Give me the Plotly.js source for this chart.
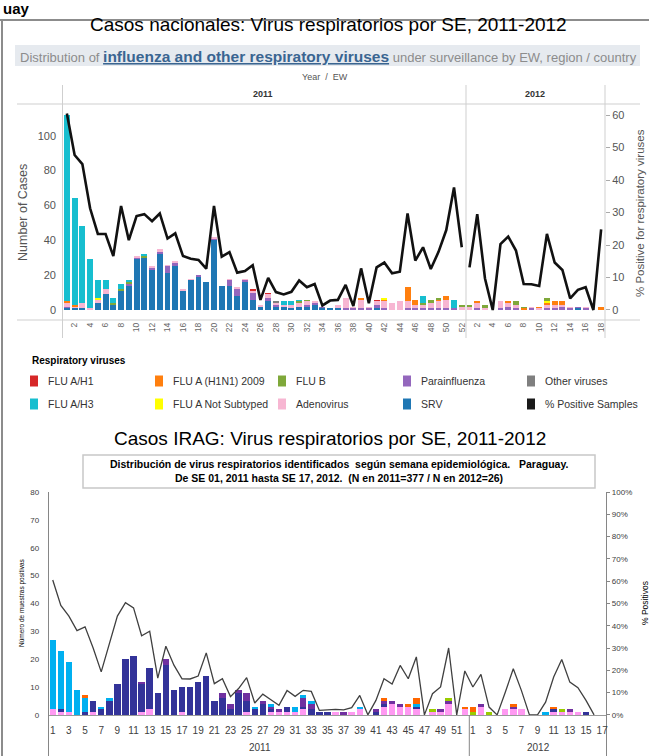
<!DOCTYPE html>
<html>
<head>
<meta charset="utf-8">
<script src="https://cdn.plot.ly/plotly-3.0.1.min.js"></script>
<style>html,body{margin:0;padding:0;background:#fff;}#chart{width:649px;height:756px;}</style>
</head>
<body>
<div id="chart"></div>
<script>
// ---------------- DATA: top chart (national cases), 2011 W1-52 + 2012 W1-18 ----------------
const yearsTop = [2011, 2012];
const weeksPerYearTop = [52, 18];
const srvTop = [1,1,1,0,4,9,3,11,14,29, 30,23,32,21,25,11,17,19,16,40, 14,14,8,16,6,2,5,2,2,1, 2,2,3,1,1,1,0,0,0,0, 1,0,0,0,0,0,0,0,0,0, 0,0,
                0,0,0,0,0,0,0,0,0,0, 0,0,0,0,1,0,0,0];
const paraTop = [1,0,0,0,0,0,0,0,1,1, 0,1,1,4,2,0,0,1,0,1, 0,3,4,1,4,0,2,1,0,0, 0,1,1,1,0,0,1,1,1,1, 2,1,0,0,1,1,1,1,1,1, 1,0,
                 0,1,0,0,1,2,1,0,1,0, 1,1,2,1,1,1,0,0];
const adenoTop = [2,1,3,1,2,3,0,0,0,1, 0,1,2,1,1,1,1,0,0,1, 0,1,1,1,1,1,2,1,1,2, 2,2,1,0,0,2,6,1,5,1, 2,4,4,5,4,2,2,3,4,5, 0,2,
                  2,3,1,0,4,2,2,0,1,1, 2,2,1,1,0,1,0,0];
const otherTop = [0,0,0,0,0,0,0,0,0,0, 0,0,0,0,0,0,0,0,0,0, 0,0,0,0,0,0,0,1,0,0, 0,0,0,0,0,0,0,0,0,0, 0,0,0,0,0,0,0,0,0,0, 0,0,
                  0,0,0,0,0,0,0,0,0,0, 0,0,0,0,0,0,0,0];
const h1Top = [0,0,0,0,0,0,0,0,0,0, 0,0,0,0,0,0,0,0,0,0, 0,0,0,0,1,0,1,0,0,0, 0,0,0,0,0,0,0,0,0,0, 1,0,0,0,0,0,0,0,0,0, 0,0,
               0,0,0,0,0,0,0,0,0,0, 0,0,0,0,0,0,0,0];
const h1n1Top = [1,1,0,0,0,0,0,0,0,0, 0,0,0,0,0,0,0,0,0,0, 0,0,0,0,0,0,0,0,0,0, 0,0,0,0,0,0,0,0,1,0, 0,1,0,0,8,3,0,0,1,2, 0,0,
                 0,1,0,0,0,1,0,1,0,1, 1,2,2,0,0,0,0,1.5];
const notSubTop = [0,0,0,0,1,0,0,0,0,0, 0,0,0,0,0,0,0,0,0,0, 0,0,0,0,0,0,0,0,0,0, 0,0,0,0,0,0,0,0,0,0, 0,1,0,0,0,0,0,0,0,0, 0,0,
                   0,0,0,0,0,0,0,0,0,0, 1,0,0,0,0,0,0,0];
const fluBTop = [0,0,0,0,0,0,1,1,1,0, 1,0,0,0,0,0,0,0,0,0, 0,0,0,0,0,0,0,0,0,0, 1,1,0,0,0,0,0,0,0,0, 0,0,0,0,0,0,1,2,1,0, 0,1,
                 1,0,2,0,0,0,2,1,0,0, 2,0,0,0,0,0,0,0];
const h3Top = [107,61,44,28,10,5,3,3,1,0, 1,0,0,0,0,0,0,0,0,0, 0,0,0,0,0,0,0,0,2,2, 1,0,0,0,0,0,0,0,0,0, 0,0,0,0,0,0,4,0,0,0, 5,0,
               0,0,0,0,0,0,0,0,0,0, 0,0,0,0,0,0,0,0];
const pctTop2011 = [60.5,47.7,44.9,31.3,23.4,23.4,16.6,32,21.5,28.9, 29.5,27.3,29.7,22,23.6,16.6,15.8,15.4,12.7,32,
                    16.4,17.8,11.5,12,13.8,3.1,9.9,5.5,4.8,5.6, 9.1,7,8,1.4,2.9,3.1,7.7,1.2,12.8,2.1,
                    13.1,14.6,11.3,11.8,29.7,15.2,19.3,12.6,17.9,24.6, 37.7,19.3];
const pctTop2012 = [13.1,29.5,9.7,0,20.3,22.6,18.3,8,7.9,7.4, 23.4,14.6,12.3,3.6,6.2,7,0,24.8];
const leftTicksTop = [0,20,40,60,80,100];
const rightTicksTop = [0,10,20,30,40,50,60];

// legend (top chart)
const legendNames = ["FLU A/H1","FLU A (H1N1) 2009","FLU B","Parainfluenza","Other viruses",
                     "FLU A/H3","FLU A Not Subtyped","Adenovirus","SRV","% Positive Samples"];
const legendColors = ["#d62728","#ff7f0e","#7fa83a","#9467bd","#7f7f7f",
                      "#17becf","#ffff00","#f7b6d2","#1f77b4","#1a1a1a"];

// ---------------- DATA: bottom chart (IRAG), 2011 W1-52 + 2012 W1-17 ----------------
const yearsBot = [2011, 2012];
const weeksPerYearBot = [52, 17];
const pinkBot = [2,1,1,0,0,1,0,0,0,0, 0,1,2,0,0,0,1,0,0,0, 0,0,0,0,1,0,0,1,1,1, 1,2,0,0,0,1,0,1,2,0, 0,3,4,3,3,2,0,1,1,4, 0,2,
                 0,3,0,0,2,2,2,0,0,0, 1,1,1,1,0,0,0];
const navyBot = [0,1,0,0,1,4,2,5,11,20, 21,10,15,8,18,9,9,10,12,14, 5,6,2,8,4,2,4,1,0,2, 0,1,2,1,1,0,0,0,0,0, 1,1,0,0,0,1,0,0,0,0, 0,0,
                 0,0,0,0,0,0,0,0,0,0, 1,0,0,0,1,0,0];
const purpleBot = [0,0,0,0,0,0,0,0,0,0, 0,1,0,0,2,0,0,0,0,0, 0,2,2,1,3,0,1,1,1,0, 0,3,2,0,0,0,1,0,0,0, 1,1,1,1,0,0,0,0,1,1, 0,0,
                   0,1,0,0,0,1,0,0,0,0, 0,0,1,0,0,0,0];
const lblueBot = [25,21,18,9,5,0,1,1,0,0, 0,0,0,0,0,0,0,0,0,0, 0,0,0,0,0,1,0,1,0,0, 2,1,1,0,0,0,0,0,1,0, 0,0,0,0,0,1,0,0,0,0, 0,0,
                  0,0,0,0,0,0,0,0,0,1, 0,0,0,0,0,0,0];
const greenBot = [0,0,0,0,0,0,0,0,0,0, 0,0,0,0,0,0,0,0,0,0, 0,0,0,0,0,0,0,0,0,0, 0,0,0,0,0,0,0,0,0,0, 0,0,0,0,0,0,0,1,0,1, 0,0,
                  1,0,1,0,0,0,0,0,0,0, 0,1,0,0,0,0,0];
const orangeBot = [0,0,0,0,1,0,0,0,0,0, 0,0,0,0,0,0,0,0,0,0, 0,0,0,0,0,0,0,0,0,0, 0,0,0,0,0,0,0,0,0,0, 0,1,0,0,1,2,0,0,0,0, 0,1,
                   2,0,0,0,0,1,0,0,0,0, 1,0,0,0,0,0,0];
const pctBot = [60.5,49.1,44.3,37.8,39.5,30,19.3,32.3,44.3,50.3, 48,35.5,37.5,16.5,30.8,22.3,16.2,16.1,17.4,27.8,
                14,16.2,8.2,11.8,16.7,5.3,9.3,6.8,4.3,10.9, 8.3,11,10.5,2,2.2,2.5,2.2,3.2,8.7,0,
                6.5,16.2,13.8,22.2,16.2,26,0,9.5,12.5,30, 0,19.7,
                12.5,18.2,3.5,0,10,20.7,11,0,0,5.7, 17,24.8,14.7,12.2,6.5,0,null];
const leftTicksBot = [0,10,20,30,40,50,60,70,80];
const rightTicksBot = [0,10,20,30,40,50,60,70,80,90,100];
const rightTickTextBot = ["0%","10%","20%","30%","40%","50%","60%","70%","80%","90%","100%"];

// ---------------- categories ----------------
function buildCats(years, counts){ const c=[], w=[]; years.forEach((y,i)=>{ for(let k=1;k<=counts[i];k++){ c.push(y+"-"+k); w.push(k);} }); return {c, w}; }
const catTop = buildCats(yearsTop, weeksPerYearTop);
const catBot = buildCats(yearsBot, weeksPerYearBot);
const topTickVals = catTop.c.filter((c,i)=>catTop.w[i]%2===0);
const topTickText = catTop.w.filter(w=>w%2===0).map(String);
const botTickVals = catBot.c.filter((c,i)=>catBot.w[i]%2===1);
const botTickText = catBot.w.filter(w=>w%2===1).map(String);

// ---------------- page geometry helpers ----------------
const W=649, H=756;
const px = x => x/W, py = y => 1 - y/H;

const FONT = "Liberation Sans, Arial, sans-serif";

const traces = [];
function topBar(name, y, color){ traces.push({type:'bar', name, x: catTop.c, y, xaxis:'x', yaxis:'y', width:0.76,
  marker:{color, line:{width:0}}, showlegend:false}); }
topBar('SRV', srvTop, '#1f77b4');
topBar('Parainfluenza', paraTop, '#9467bd');
topBar('Adenovirus', adenoTop, '#f7b6d2');
topBar('Other viruses', otherTop, '#7f7f7f');
topBar('FLU A/H1', h1Top, '#d62728');
topBar('FLU A (H1N1) 2009', h1n1Top, '#ff7f0e');
topBar('FLU A Not Subtyped', notSubTop, '#ffff00');
topBar('FLU B', fluBTop, '#7fa83a');
topBar('FLU A/H3', h3Top, '#17becf');
traces.push({type:'scatter', mode:'lines', name:'% Positive Samples 2011', x: catTop.c.slice(0,52), y: pctTop2011,
  xaxis:'x', yaxis:'y2', line:{color:'#111', width:2.6}, showlegend:false});
traces.push({type:'scatter', mode:'lines', name:'% Positive Samples 2012', x: catTop.c.slice(52), y: pctTop2012,
  xaxis:'x', yaxis:'y2', line:{color:'#111', width:2.6}, showlegend:false});

function botBar(name, y, color){ traces.push({type:'bar', name, x: catBot.c, y, xaxis:'x3', yaxis:'y3', width:0.8,
  marker:{color, line:{width:0}}, showlegend:false}); }
botBar('Adenovirus', pinkBot, '#ff99f2');
botBar('VSR', navyBot, '#333399');
botBar('Parainfluenza', purpleBot, '#7030a0');
botBar('Influenza A H3', lblueBot, '#00b0f0');
botBar('Influenza B', greenBot, '#99cc00');
botBar('Influenza A H1N1 2009', orangeBot, '#ff6600');
traces.push({type:'scatter', mode:'lines', name:'% Positivos', x: catBot.c, y: pctBot, xaxis:'x3', yaxis:'y4',
  line:{color:'#404040', width:1.3}, connectgaps:false, showlegend:false});

// ---------------- shapes ----------------
const shapes = [];
const lineShape = (x0,y0,x1,y1,color,w) => shapes.push({type:'line', xref:'paper', yref:'paper',
  x0:px(x0), y0:py(y0), x1:px(x1), y1:py(y1), line:{color, width:w}});
// page border
lineShape(0,20,649,20,'#8c8c8c',2);
lineShape(2,20,2,756,'#8c8c8c',2);
// subtitle band
shapes.push({type:'rect', xref:'paper', yref:'paper', x0:px(15), x1:px(640), y0:py(66), y1:py(45),
  fillcolor:'#e6eaef', line:{width:0}, layer:'below'});
// top chart frame
lineShape(62.5,85,62.5,338,'#cfcfcf',1);
lineShape(466,85,466,338,'#cfcfcf',1);
lineShape(605,85,605,338,'#cfcfcf',1);
lineShape(17,104,640,104,'#cfcfcf',1);
lineShape(17,320,640,320,'#cfcfcf',1);
// legend swatches
const legCols = [30,155,278,403,527], legRows = [381,404];
legendNames.forEach((n,i)=>{
  const cx = legCols[i%5], cy = legRows[Math.floor(i/5)];
  shapes.push({type:'rect', xref:'paper', yref:'paper', x0:px(cx), x1:px(cx+8), y0:py(cy+5.5), y1:py(cy-5.5),
    fillcolor:legendColors[i], line:{width:0}});
});
// bottom subtitle box
shapes.push({type:'rect', xref:'paper', yref:'paper', x0:px(83), x1:px(595), y0:py(488), y1:py(455),
  fillcolor:'rgba(0,0,0,0)', line:{color:'#c8c8c8', width:1.5}});
// bottom year divider
lineShape(469.3,715,469.3,756,'#868686',1);

// ---------------- annotations ----------------
const ann = [];
const txt = (x,y,text,opts={}) => ann.push(Object.assign({xref:'paper', yref:'paper', x:px(x), y:py(y), text,
  showarrow:false, xanchor:'center', yanchor:'middle', font:{family:FONT, size:10, color:'#000'}}, opts));
txt(1,8,'<b>uay</b>',{xanchor:'left', font:{family:FONT, size:15, color:'#000'}});
txt(328,25,'Casos nacionales: Virus respiratorios por SE, 2011-2012',{font:{family:FONT, size:19, color:'#000'}});
txt(328,56,'<span style="color:#8c8c8c">Distribution of </span><b><span style="color:#3a6591;font-size:15.5px;text-decoration:underline">influenza and other respiratory viruses</span></b><span style="color:#8c8c8c"> under surveillance by EW, region / country</span>',
  {font:{family:FONT, size:13, color:'#8c8c8c'}});
txt(325,77,'Year  /  EW',{font:{family:FONT, size:9, color:'#555'}});
txt(263,94,'<b>2011</b>',{font:{family:FONT, size:9, color:'#333'}});
txt(535,94,'<b>2012</b>',{font:{family:FONT, size:9, color:'#333'}});
txt(23,213,'Number of Cases',{textangle:-90, font:{family:FONT, size:12.5, color:'#555'}});
txt(640,213,'% Positive for respiratory viruses',{textangle:-90, font:{family:FONT, size:11.5, color:'#555'}});
txt(30,361,'<b>Respiratory viruses</b>',{xanchor:'left', font:{family:FONT, size:10, color:'#000'}});
legendNames.forEach((n,i)=>{
  txt(legCols[i%5]+16, legRows[Math.floor(i/5)], n, {xanchor:'left', font:{family:FONT, size:10.5, color:'#333'}});
});
txt(330,438,'Casos IRAG: Virus respiratorios por SE, 2011-2012',{font:{family:FONT, size:19, color:'#000'}});
txt(339,464,'<b>Distribución de virus respiratorios identificados  según semana epidemiológica.   Paraguay.</b>',
  {font:{family:FONT, size:10.5, color:'#000'}});
txt(339,478,'<b>De SE 01, 2011 hasta SE 17, 2012.  (N en 2011=377 / N en 2012=26)</b>',
  {font:{family:FONT, size:10.5, color:'#000'}});
txt(22,603,'Número de muestras positivas',{textangle:-90, font:{family:FONT, size:6.5, color:'#000'}});
txt(645,603,'% Positivos',{textangle:-90, font:{family:FONT, size:8.5, color:'#000'}});
txt(260,747,'2011',{font:{family:FONT, size:10, color:'#404040'}});
txt(538,747,'2012',{font:{family:FONT, size:10, color:'#404040'}});

// ---------------- layout ----------------
const layout = {
  width:W, height:H, margin:{l:0,r:0,t:0,b:0}, paper_bgcolor:'#fff', plot_bgcolor:'rgba(0,0,0,0)',
  barmode:'stack', showlegend:false, font:{family:FONT},
  xaxis:{domain:[px(63),px(605)], anchor:'y', type:'category', categoryorder:'array', categoryarray:catTop.c,
    range:[-0.5,69.5], tickvals:topTickVals, ticktext:topTickText, tickangle:-90, ticks:'',
    tickfont:{family:FONT, size:8.5, color:'#666'}, showgrid:false, zeroline:false, showline:false},
  yaxis:{domain:[py(320),py(104)], anchor:'x', range:[-5.74,118.2], tickvals:leftTicksTop,
    showgrid:false, zeroline:false, showline:false, ticks:'', ticklabelstandoff:6,
    tickfont:{family:FONT, size:11, color:'#555'}},
  yaxis2:{overlaying:'y', side:'right', anchor:'x', range:[-3.08,63.4], tickvals:rightTicksTop,
    showgrid:false, zeroline:false, showline:false, ticks:'outside', ticklen:4, tickcolor:'#aaa',
    tickfont:{family:FONT, size:11, color:'#555'}},
  xaxis3:{domain:[px(48.7),px(606.2)], anchor:'free', position:py(715), type:'category', categoryorder:'array',
    categoryarray:catBot.c, range:[-0.5,68.5], tickvals:botTickVals, ticktext:botTickText, tickangle:0, ticks:'',
    ticklabelstandoff:6, tickfont:{family:FONT, size:10, color:'#404040'}, showgrid:false, zeroline:false, showline:true,
    linecolor:'#9a9a9a', linewidth:1},
  yaxis3:{domain:[0,py(492)], anchor:'x3', range:[-14.72,80], tickvals:leftTicksBot,
    showgrid:false, zeroline:false, showline:true, linecolor:'#868686', linewidth:1, ticks:'',
    ticklabelstandoff:7, tickfont:{family:FONT, size:8, color:'#404040'}},
  yaxis4:{overlaying:'y3', side:'right', anchor:'x3', range:[-18.46,100], tickvals:rightTicksBot, ticktext:rightTickTextBot,
    showgrid:false, zeroline:false, showline:true, linecolor:'#868686', linewidth:1,
    ticks:'outside', ticklen:3, tickcolor:'#868686', tickfont:{family:FONT, size:8, color:'#404040'}},
  shapes, annotations:ann
};
Plotly.newPlot('chart', traces, layout, {staticPlot:true, displayModeBar:false});
</script>
</body>
</html>
